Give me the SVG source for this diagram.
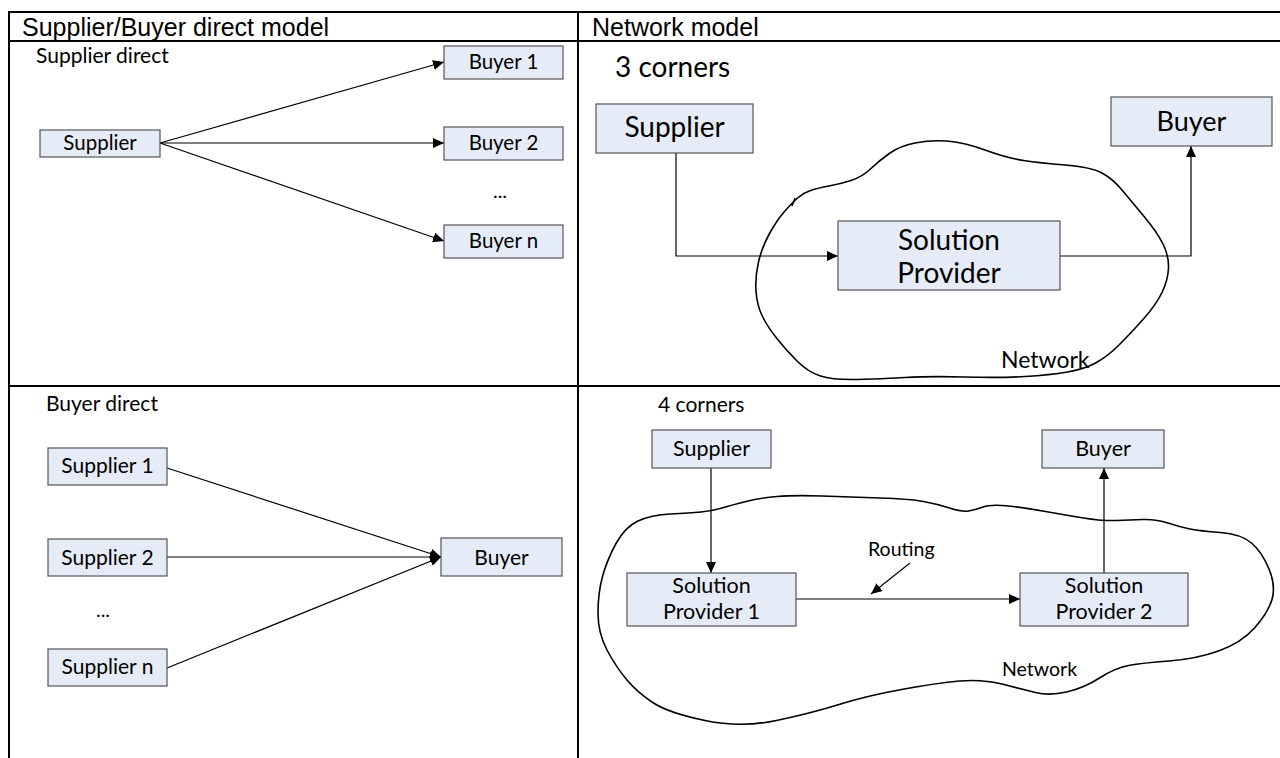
<svg xmlns="http://www.w3.org/2000/svg" width="1280" height="758" viewBox="0 0 1280 758">
<style>
.grid{stroke:#000;stroke-width:2;fill:none}
.box{fill:#E6ECF7;stroke:#555;stroke-width:1.2}
.c{font-family:Lato,"Open Sans","Liberation Sans",sans-serif;fill:#000}
.h{font-family:"Liberation Sans",Arial,sans-serif;font-size:25px;fill:#000}
.ln{stroke:#000;stroke-width:1.2;fill:none}
.cloud{stroke:#000;stroke-width:1.6;fill:none}
.mid{text-anchor:middle}
</style>
<defs>
<marker id="ah" markerUnits="userSpaceOnUse" markerWidth="11" markerHeight="10" refX="11" refY="5" orient="auto">
<path d="M0,0 L11,5 L0,10 z" fill="#000"/>
</marker>
</defs>
<rect width="1280" height="758" fill="#fff"/>
<g id="table">
<line class="grid" x1="9" y1="12" x2="1280" y2="12"/>
<line class="grid" x1="9" y1="41" x2="1280" y2="41"/>
<line class="grid" x1="9" y1="386" x2="1280" y2="386"/>
<line class="grid" x1="9" y1="11" x2="9" y2="758"/>
<line class="grid" x1="578" y1="11" x2="578" y2="758"/>
<text class="h" x="22" y="36">Supplier/Buyer direct model</text>
<text class="h" x="592" y="36">Network model</text>
</g>
<g id="labels">
<text class="c" x="36" y="63" font-size="21">Supplier direct</text>
<text class="c" x="500" y="198" font-size="20" text-anchor="middle">...</text>
<text class="c" x="615" y="77" font-size="28">3 corners</text>
<text class="c" x="46" y="411" font-size="21">Buyer direct</text>
<text class="c" x="103" y="617" font-size="20" text-anchor="middle">...</text>
<text class="c" x="658" y="412" font-size="21">4 corners</text>
</g>
<g id="clouds">
<path class="cloud" d="M 946.5,141 Q 963,142 985,150 Q 1007,158 1023.5,160.5 Q 1040,163 1065,165 Q 1090,167 1101,172.5 Q 1112,178 1122,190 Q 1132,202 1144.5,217 Q 1157,232 1163,244 Q 1169,256 1168.5,268 Q 1168,280 1162,292.5 Q 1156,305 1143,319.5 Q 1130,334 1119,345 Q 1108,356 1096.5,362.5 Q 1085,369 1067.5,372 Q 1050,375 1025,376.5 Q 1000,378 965,377 Q 930,376 905,377.5 Q 880,379 856.5,379.5 Q 833,380 820.5,376 Q 808,372 797,361 Q 786,350 776.5,338 Q 767,326 762,315.5 Q 757,305 756,291 Q 755,277 758.5,262 Q 762,247 769.5,233.5 Q 777,220 784.5,211.5 Q 792,203 797.5,198 Q 803,193 810.5,190.5 Q 818,188 829,186 Q 840,184 851,180.5 Q 862,177 871,168.5 Q 880,160 890,153 Q 900,146 915,143 Q 930,140 946.5,141 Z"/>
<path class="cloud" d="M 792,206 L 795,198"/>
<text class="c" x="1001" y="368" font-size="23">Network</text>
<path class="cloud" d="M 616,543.5 Q 625,527 638,521 Q 651,515 670.5,514 Q 690,513 701,512 Q 712,511 722,508 Q 732,505 746,501.5 Q 760,498 777,496.5 Q 794,495 822,496 Q 850,497 880,498 Q 910,499 923.5,501.5 Q 937,504 949.5,508 Q 962,512 968.5,511 Q 975,510 983,507 Q 991,504 1008.5,506 Q 1026,508 1045.5,511.5 Q 1065,515 1083.5,518 Q 1102,521 1116,520.5 Q 1130,520 1143,519.5 Q 1156,519 1168,523 Q 1180,527 1190,529 Q 1200,531 1220.5,532.5 Q 1241,534 1251.5,543 Q 1262,552 1269,569 Q 1276,586 1272,599.5 Q 1268,613 1254.5,628 Q 1241,643 1218.5,651 Q 1196,659 1169,661 Q 1142,663 1128.5,665.5 Q 1115,668 1099.5,678 Q 1084,688 1066.5,692 Q 1049,696 1035.5,692.5 Q 1022,689 1002,684 Q 982,679 959.5,681 Q 937,683 901.5,689.5 Q 866,696 839,704.5 Q 812,713 776.5,720.5 Q 741,728 705,720.5 Q 669,713 653.5,703 Q 638,693 627,680 Q 616,667 607,650 Q 598,633 598,613 Q 598,593 602.5,576.5 Q 607,560 616,543.5 Z"/>
<text class="c" x="1002" y="676" font-size="19.5">Network</text>
<text class="c" x="868" y="556" font-size="19.5">Routing</text>
</g>
<g id="connectors">
<line class="ln" x1="160" y1="143" x2="444" y2="62" marker-end="url(#ah)"/>
<line class="ln" x1="160" y1="143" x2="444" y2="143" marker-end="url(#ah)"/>
<line class="ln" x1="160" y1="143" x2="444" y2="241" marker-end="url(#ah)"/>
<line class="ln" x1="167" y1="468" x2="441" y2="557" marker-end="url(#ah)"/>
<line class="ln" x1="167" y1="557" x2="441" y2="557" marker-end="url(#ah)"/>
<line class="ln" x1="167" y1="668" x2="441" y2="557" marker-end="url(#ah)"/>
<polyline class="ln" points="676,153 676,256 838,256" marker-end="url(#ah)"/>
<polyline class="ln" points="1060,256 1191,256 1191,146" marker-end="url(#ah)"/>
<line class="ln" x1="711" y1="468" x2="711" y2="573" marker-end="url(#ah)"/>
<line class="ln" x1="1104" y1="573" x2="1104" y2="468" marker-end="url(#ah)"/>
<line class="ln" x1="796" y1="599" x2="1020" y2="599" marker-end="url(#ah)"/>
<line class="ln" x1="910" y1="563" x2="871" y2="594" marker-end="url(#ah)"/>
</g>
<g id="n-supplier-a"><rect class="box" x="40" y="130" width="120" height="27"/><text class="c mid" x="100" y="150" font-size="20.5">Supplier</text></g>
<g id="n-buyer1"><rect class="box" x="444" y="46" width="119" height="33"/><text class="c mid" x="503.5" y="69" font-size="20.5">Buyer 1</text></g>
<g id="n-buyer2"><rect class="box" x="444" y="127" width="119" height="33"/><text class="c mid" x="503.5" y="150" font-size="20.5">Buyer 2</text></g>
<g id="n-buyern"><rect class="box" x="444" y="225" width="119" height="33"/><text class="c mid" x="503.5" y="248" font-size="20.5">Buyer n</text></g>
<g id="n-supplier1"><rect class="box" x="48" y="448" width="119" height="37"/><text class="c mid" x="107.5" y="473" font-size="21">Supplier 1</text></g>
<g id="n-supplier2"><rect class="box" x="48" y="539" width="119" height="37"/><text class="c mid" x="107.5" y="565" font-size="21">Supplier 2</text></g>
<g id="n-suppliern"><rect class="box" x="48" y="649" width="119" height="37"/><text class="c mid" x="107.5" y="674" font-size="21">Supplier n</text></g>
<g id="n-buyer-b"><rect class="box" x="441" y="538" width="121" height="38"/><text class="c mid" x="501.5" y="565" font-size="21">Buyer</text></g>
<g id="n-supplier-3c"><rect class="box" x="596" y="104" width="157" height="49"/><text class="c mid" x="674.5" y="137" font-size="28">Supplier</text></g>
<g id="n-buyer-3c"><rect class="box" x="1111" y="97" width="161" height="49"/><text class="c mid" x="1191.5" y="131" font-size="27">Buyer</text></g>
<g id="n-sp-3c"><rect class="box" x="838" y="221" width="222" height="69"/><text class="c mid" x="949" y="250" font-size="28">Solution</text><text class="c mid" x="949" y="283" font-size="28">Provider</text></g>
<g id="n-supplier-4c"><rect class="box" x="652" y="430" width="119" height="38"/><text class="c mid" x="711.5" y="456" font-size="21.5">Supplier</text></g>
<g id="n-buyer-4c"><rect class="box" x="1042" y="430" width="122" height="38"/><text class="c mid" x="1103" y="456" font-size="21.5">Buyer</text></g>
<g id="n-sp1"><rect class="box" x="627" y="573" width="169" height="53"/><text class="c mid" x="711.5" y="593" font-size="21.5">Solution</text><text class="c mid" x="711.5" y="619" font-size="21.5">Provider 1</text></g>
<g id="n-sp2"><rect class="box" x="1020" y="573" width="168" height="53"/><text class="c mid" x="1104" y="593" font-size="21.5">Solution</text><text class="c mid" x="1104" y="619" font-size="21.5">Provider 2</text></g>
</svg>
